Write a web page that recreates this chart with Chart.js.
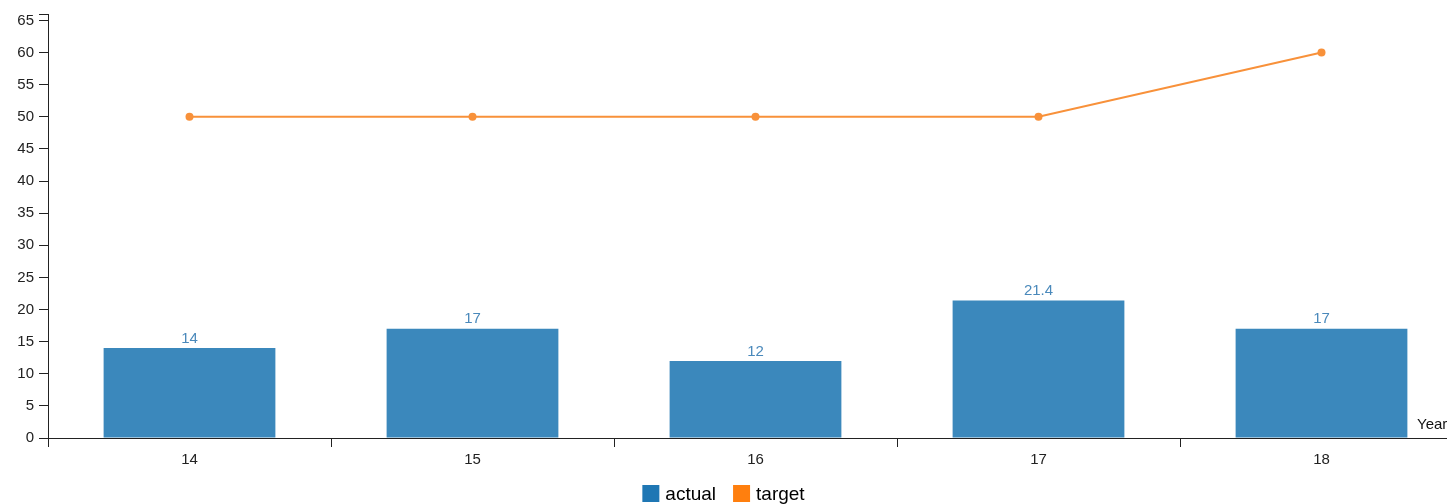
<!DOCTYPE html>
<html>
<head>
<meta charset="utf-8">
<script src="https://cdn.jsdelivr.net/npm/chart.js@4.4.1/dist/chart.umd.min.js"></script>
<style>
  html, body { margin: 0; padding: 0; background: #fff; overflow: hidden; }
  #wrap { position: relative; width: 1447px; height: 504px; overflow: hidden; }
  #c { display: block; }
</style>
</head>
<body>
<div id="wrap"><canvas id="c" width="1463" height="504"></canvas></div>
<script>
// Years (two-digit) on the category axis
const years = ['14', '15', '16', '17', '18'];
// Actual results per year
const actual = [14, 17, 12, 21.4, 17];
// Target per year
const target = [50, 50, 50, 50, 60];
// Y axis tick labels and range
const yTicks = [0, 5, 10, 15, 20, 25, 30, 35, 40, 45, 50, 55, 60, 65];
const yMin = 0;
const yMax = 66;
const xTitle = 'Year';

const FONT = "'Liberation Sans', Arial, Helvetica, sans-serif";
const BAR_COLOR = '#3b88bc';
const LINE_COLOR = '#f8913a';
const LEGEND_COLORS = { actual: '#1f77b4', target: '#ff7f0e' };
const AXIS_COLOR = '#222';
const VIEW_WIDTH = 1447;

// Value labels above each bar
const barLabels = {
  id: 'barLabels',
  afterDatasetsDraw(chart) {
    const ctx = chart.ctx;
    const meta = chart.getDatasetMeta(0);
    ctx.save();
    ctx.font = '15px ' + FONT;
    ctx.fillStyle = '#4a89bb';
    ctx.textAlign = 'center';
    ctx.textBaseline = 'bottom';
    meta.data.forEach((bar, i) => {
      ctx.fillText(String(chart.data.datasets[0].data[i]), bar.x, bar.y - 2);
    });
    ctx.restore();
  }
};

// Axis title at the inner right end of the x axis
const xAxisTitle = {
  id: 'xAxisTitle',
  afterDraw(chart) {
    const ctx = chart.ctx;
    const area = chart.chartArea;
    ctx.save();
    ctx.font = '15px ' + FONT;
    ctx.fillStyle = '#111';
    ctx.textAlign = 'left';
    ctx.textBaseline = 'middle';
    ctx.fillText(xTitle, area.right - 46, area.bottom - 13);
    ctx.restore();
  }
};

// Legend centred under the visible area
const bottomLegend = {
  id: 'bottomLegend',
  afterDraw(chart) {
    const ctx = chart.ctx;
    const box = 17, gap = 6, spacing = 17;
    ctx.save();
    ctx.font = '19px ' + FONT;
    const items = chart.data.datasets.map(ds => ({
      label: ds.label,
      color: LEGEND_COLORS[ds.label],
      w: ctx.measureText(ds.label).width
    }));
    let total = 0;
    items.forEach((it, i) => { total += box + gap + it.w + (i < items.length - 1 ? spacing : 0); });
    let x = VIEW_WIDTH / 2 - total / 2;
    const yTop = 485;
    ctx.textAlign = 'left';
    ctx.textBaseline = 'middle';
    items.forEach(it => {
      ctx.fillStyle = it.color;
      ctx.fillRect(x, yTop, box, box);
      ctx.fillStyle = '#000';
      ctx.fillText(it.label, x + box + gap, yTop + box / 2 + 1);
      x += box + gap + it.w + spacing;
    });
    ctx.restore();
  }
};

new Chart(document.getElementById('c'), {
  data: {
    labels: years,
    datasets: [
      {
        type: 'bar',
        label: 'actual',
        data: actual,
        backgroundColor: BAR_COLOR,
        borderWidth: 0,
        barPercentage: 0.607,
        categoryPercentage: 1,
        order: 2
      },
      {
        type: 'line',
        label: 'target',
        data: target,
        borderColor: LINE_COLOR,
        backgroundColor: LINE_COLOR,
        borderWidth: 2,
        pointRadius: 4,
        pointHoverRadius: 4,
        pointBorderWidth: 0,
        tension: 0,
        order: 1
      }
    ]
  },
  options: {
    responsive: false,
    animation: false,
    events: [],
    layout: { autoPadding: false, padding: { top: 13, right: 0, left: 0, bottom: 0 } },
    plugins: {
      legend: { display: false },
      tooltip: { enabled: false }
    },
    scales: {
      x: {
        type: 'category',
        offset: true,
        grid: {
          offset: true,
          drawOnChartArea: false,
          drawTicks: true,
          tickLength: 9,
          color: AXIS_COLOR,
          lineWidth: 1
        },
        border: { display: true, color: AXIS_COLOR, width: 1 },
        ticks: {
          color: '#222',
          font: { family: FONT, size: 15 },
          padding: 4,
          maxRotation: 0
        },
        afterFit(scale) { scale.height = 66; }
      },
      y: {
        min: yMin,
        max: yMax,
        grid: {
          drawOnChartArea: false,
          drawTicks: true,
          tickLength: 9,
          color: AXIS_COLOR,
          lineWidth: 1
        },
        border: { display: true, color: AXIS_COLOR, width: 1 },
        ticks: {
          color: '#222',
          font: { family: FONT, size: 15 },
          padding: 5,
          callback: v => (yTicks.includes(v) ? String(v) : '')
        },
        afterBuildTicks(scale) {
          // labelled ticks plus an unlabelled end tick at the top of the axis
          scale.ticks = yTicks.map(v => ({ value: v })).concat([{ value: yMax }]);
        },
        afterFit(scale) { scale.width = 48; }
      }
    }
  },
  plugins: [barLabels, xAxisTitle, bottomLegend]
});
</script>
</body>
</html>
